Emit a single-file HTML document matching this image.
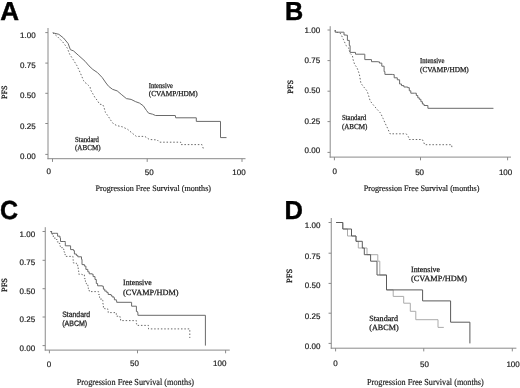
<!DOCTYPE html>
<html><head><meta charset="utf-8"><style>
html,body{margin:0;padding:0;background:#fff;}
body{width:520px;height:388px;overflow:hidden;}
svg{display:block;will-change:transform;}
</style></head><body>
<svg width="520" height="388" viewBox="0 0 520 388" shape-rendering="auto" text-rendering="geometricPrecision">
<rect width="520" height="388" fill="#fff"/>
<line x1="48.00" y1="28.00" x2="48.00" y2="159.20" stroke="#8a8a8a" stroke-width="1.0"/>
<line x1="47.50" y1="158.70" x2="245.50" y2="158.70" stroke="#8a8a8a" stroke-width="1.0"/>
<line x1="45.30" y1="32.60" x2="48.00" y2="32.60" stroke="#8a8a8a" stroke-width="1.0"/>
<line x1="45.30" y1="63.10" x2="48.00" y2="63.10" stroke="#8a8a8a" stroke-width="1.0"/>
<line x1="45.30" y1="93.30" x2="48.00" y2="93.30" stroke="#8a8a8a" stroke-width="1.0"/>
<line x1="45.30" y1="123.50" x2="48.00" y2="123.50" stroke="#8a8a8a" stroke-width="1.0"/>
<line x1="45.30" y1="154.40" x2="48.00" y2="154.40" stroke="#8a8a8a" stroke-width="1.0"/>
<line x1="52.50" y1="158.70" x2="52.50" y2="161.90" stroke="#8a8a8a" stroke-width="1.0"/>
<line x1="147.20" y1="158.70" x2="147.20" y2="161.90" stroke="#8a8a8a" stroke-width="1.0"/>
<line x1="242.00" y1="158.70" x2="242.00" y2="161.90" stroke="#8a8a8a" stroke-width="1.0"/>
<text x="35.6" y="37.8" font-family="Liberation Sans" font-size="8.0" font-weight="normal" fill="#1a1a1a" text-anchor="end" stroke="#1a1a1a" stroke-width="0.2">1.00</text>
<text x="35.6" y="67.8" font-family="Liberation Sans" font-size="8.0" font-weight="normal" fill="#1a1a1a" text-anchor="end" stroke="#1a1a1a" stroke-width="0.2">0.75</text>
<text x="35.6" y="98.3" font-family="Liberation Sans" font-size="8.0" font-weight="normal" fill="#1a1a1a" text-anchor="end" stroke="#1a1a1a" stroke-width="0.2">0.50</text>
<text x="35.6" y="128.6" font-family="Liberation Sans" font-size="8.0" font-weight="normal" fill="#1a1a1a" text-anchor="end" stroke="#1a1a1a" stroke-width="0.2">0.25</text>
<text x="35.6" y="158.6" font-family="Liberation Sans" font-size="8.0" font-weight="normal" fill="#1a1a1a" text-anchor="end" stroke="#1a1a1a" stroke-width="0.2">0.00</text>
<text x="48.8" y="174.1" font-family="Liberation Sans" font-size="8.0" font-weight="normal" fill="#1a1a1a" text-anchor="middle" stroke="#1a1a1a" stroke-width="0.2">0</text>
<text x="149.3" y="175.0" font-family="Liberation Sans" font-size="8.0" font-weight="normal" fill="#1a1a1a" text-anchor="middle" stroke="#1a1a1a" stroke-width="0.2">50</text>
<text x="239.0" y="175.0" font-family="Liberation Sans" font-size="8.0" font-weight="normal" fill="#1a1a1a" text-anchor="middle" stroke="#1a1a1a" stroke-width="0.2">100</text>
<text x="95.5" y="191.0" font-family="Liberation Serif" font-size="8.5" font-weight="normal" fill="#1a1a1a" text-anchor="start" stroke="#1a1a1a" stroke-width="0.18" textLength="115.5" lengthAdjust="spacingAndGlyphs">Progression Free Survival (months)</text>
<text transform="translate(7.3,99.0) rotate(-90)" font-family="Liberation Serif" font-size="8.0" font-weight="normal" fill="#1a1a1a" stroke="#1a1a1a" stroke-width="0.3" textLength="13.5" lengthAdjust="spacingAndGlyphs">PFS</text>
<text transform="translate(0.3,19.7) scale(1.0,1)" font-family="Liberation Sans" font-size="26" font-weight="bold" fill="#000" stroke="#000" stroke-width="0.45">A</text>
<text x="148.75" y="88.2" font-family="Liberation Serif" font-size="7.6" font-weight="normal" fill="#1a1a1a" text-anchor="start" stroke="#1a1a1a" stroke-width="0.25" textLength="24.3" lengthAdjust="spacingAndGlyphs">Intensive</text>
<text x="148.75" y="95.7" font-family="Liberation Serif" font-size="7.6" font-weight="normal" fill="#1a1a1a" text-anchor="start" stroke="#1a1a1a" stroke-width="0.25" textLength="49.0" lengthAdjust="spacingAndGlyphs">(CVAMP/HDM)</text>
<text x="75.0" y="142.3" font-family="Liberation Serif" font-size="7.6" font-weight="normal" fill="#1a1a1a" text-anchor="start" stroke="#1a1a1a" stroke-width="0.25" textLength="24.0" lengthAdjust="spacingAndGlyphs">Standard</text>
<text x="75.0" y="150.0" font-family="Liberation Serif" font-size="7.6" font-weight="normal" fill="#1a1a1a" text-anchor="start" stroke="#1a1a1a" stroke-width="0.25" textLength="25.6" lengthAdjust="spacingAndGlyphs">(ABCM)</text>
<polyline points="52.8,32.8 58.8,34.3 63.5,38.0 68.1,43.5 70.4,49.7 73.5,50.9 78.2,55.1 85.1,61.3 89.0,65.9 92.9,69.5 97.5,72.6 102.2,77.5 106.0,83.0 108.6,86.3 112.5,89.3 117.2,90.9 121.8,94.8 126.4,98.6 131.1,99.4 135.7,101.7 139.5,103.1 143.3,105.8 146.5,110.5 148.6,113.2 152.5,114.2 155.6,115.5 175.3,115.5 175.7,117.8 196.3,117.8 196.3,121.4 220.5,121.4 220.5,137.6 226.5,137.6" fill="none" stroke="#6a6a6a" stroke-width="1.0" stroke-linejoin="miter"/>
<polyline points="52.8,32.8 57.3,36.5 62.7,41.9 67.3,48.1 69.7,54.3 72.8,59.0 77.0,65.8 80.4,73.1 83.5,80.5 84.7,82.4 86.6,83.6 88.6,85.5 90.1,87.0 90.5,89.7 93.2,94.4 95.0,97.6 97.3,100.4 99.6,104.2 102.7,104.6 103.9,107.0 105.4,112.4 108.5,116.7 111.2,120.9 113.6,124.0 117.2,125.7 122.3,126.8 127.7,129.4 132.4,133.3 136.3,136.4 144.8,136.4 149.4,139.5 157.2,139.9 159.5,142.2 180.7,142.2 180.9,144.6 202.0,144.6 202.8,147.0 203.6,149.5" fill="none" stroke="#6a6a6a" stroke-width="1.0" stroke-linejoin="miter" stroke-dasharray="1.5 1.85"/>
<line x1="330.20" y1="26.20" x2="330.20" y2="157.60" stroke="#8a8a8a" stroke-width="1.0"/>
<line x1="329.70" y1="157.10" x2="511.00" y2="157.10" stroke="#8a8a8a" stroke-width="1.0"/>
<line x1="327.50" y1="30.00" x2="330.20" y2="30.00" stroke="#8a8a8a" stroke-width="1.0"/>
<line x1="327.50" y1="60.60" x2="330.20" y2="60.60" stroke="#8a8a8a" stroke-width="1.0"/>
<line x1="327.50" y1="91.20" x2="330.20" y2="91.20" stroke="#8a8a8a" stroke-width="1.0"/>
<line x1="327.50" y1="121.60" x2="330.20" y2="121.60" stroke="#8a8a8a" stroke-width="1.0"/>
<line x1="327.50" y1="152.40" x2="330.20" y2="152.40" stroke="#8a8a8a" stroke-width="1.0"/>
<line x1="334.40" y1="157.10" x2="334.40" y2="160.30" stroke="#8a8a8a" stroke-width="1.0"/>
<line x1="420.50" y1="157.10" x2="420.50" y2="160.30" stroke="#8a8a8a" stroke-width="1.0"/>
<line x1="507.60" y1="157.10" x2="507.60" y2="160.30" stroke="#8a8a8a" stroke-width="1.0"/>
<text x="320.2" y="32.6" font-family="Liberation Sans" font-size="8.0" font-weight="normal" fill="#1a1a1a" text-anchor="end" stroke="#1a1a1a" stroke-width="0.2">1.00</text>
<text x="320.2" y="63.1" font-family="Liberation Sans" font-size="8.0" font-weight="normal" fill="#1a1a1a" text-anchor="end" stroke="#1a1a1a" stroke-width="0.2">0.75</text>
<text x="320.2" y="92.8" font-family="Liberation Sans" font-size="8.0" font-weight="normal" fill="#1a1a1a" text-anchor="end" stroke="#1a1a1a" stroke-width="0.2">0.50</text>
<text x="320.2" y="123.8" font-family="Liberation Sans" font-size="8.0" font-weight="normal" fill="#1a1a1a" text-anchor="end" stroke="#1a1a1a" stroke-width="0.2">0.25</text>
<text x="320.2" y="153.2" font-family="Liberation Sans" font-size="8.0" font-weight="normal" fill="#1a1a1a" text-anchor="end" stroke="#1a1a1a" stroke-width="0.2">0.00</text>
<text x="334.8" y="174.4" font-family="Liberation Sans" font-size="8.0" font-weight="normal" fill="#1a1a1a" text-anchor="middle" stroke="#1a1a1a" stroke-width="0.2">0</text>
<text x="419.6" y="174.8" font-family="Liberation Sans" font-size="8.0" font-weight="normal" fill="#1a1a1a" text-anchor="middle" stroke="#1a1a1a" stroke-width="0.2">50</text>
<text x="505.6" y="175.0" font-family="Liberation Sans" font-size="8.0" font-weight="normal" fill="#1a1a1a" text-anchor="middle" stroke="#1a1a1a" stroke-width="0.2">100</text>
<text x="363.7" y="191.2" font-family="Liberation Serif" font-size="8.5" font-weight="normal" fill="#1a1a1a" text-anchor="start" stroke="#1a1a1a" stroke-width="0.18" textLength="115.8" lengthAdjust="spacingAndGlyphs">Progression Free Survival (months)</text>
<text transform="translate(292.7,93.7) rotate(-90)" font-family="Liberation Serif" font-size="8.0" font-weight="normal" fill="#1a1a1a" stroke="#1a1a1a" stroke-width="0.3" textLength="13.9" lengthAdjust="spacingAndGlyphs">PFS</text>
<text transform="translate(284.9,19.6) scale(0.97,1)" font-family="Liberation Sans" font-size="26" font-weight="bold" fill="#000" stroke="#000" stroke-width="0.45">B</text>
<text x="420.0" y="63.2" font-family="Liberation Serif" font-size="7.6" font-weight="normal" fill="#1a1a1a" text-anchor="start" stroke="#1a1a1a" stroke-width="0.25" textLength="24.4" lengthAdjust="spacingAndGlyphs">Intensive</text>
<text x="420.0" y="72.2" font-family="Liberation Serif" font-size="7.6" font-weight="normal" fill="#1a1a1a" text-anchor="start" stroke="#1a1a1a" stroke-width="0.25" textLength="48.8" lengthAdjust="spacingAndGlyphs">(CVAMP/HDM)</text>
<text x="341.9" y="120.2" font-family="Liberation Serif" font-size="7.6" font-weight="normal" fill="#1a1a1a" text-anchor="start" stroke="#1a1a1a" stroke-width="0.25" textLength="24.4" lengthAdjust="spacingAndGlyphs">Standard</text>
<text x="341.9" y="128.9" font-family="Liberation Serif" font-size="7.6" font-weight="normal" fill="#1a1a1a" text-anchor="start" stroke="#1a1a1a" stroke-width="0.25" textLength="25.6" lengthAdjust="spacingAndGlyphs">(ABCM)</text>
<polyline points="335.2,30.0 335.2,30.0 335.2,32.2 343.5,32.2 343.5,32.2 344.0,32.2 344.0,35.0 346.2,35.0 346.2,35.2 347.4,35.2 347.4,40.4 349.3,40.4 349.3,45.6 350.1,45.6 350.1,52.4 355.5,52.4 355.5,52.4 355.5,52.4 355.5,54.2 364.2,54.2 364.2,54.2 364.8,54.2 364.8,59.6 371.0,59.6 371.0,59.6 371.5,59.6 371.5,61.7 377.9,61.7 377.9,61.9 379.5,61.9 379.5,63.1 381.8,63.1 381.8,66.2 384.1,66.2 384.1,71.6 384.9,71.6 384.9,74.4 392.6,74.4 392.6,74.6 394.2,74.6 394.2,77.8 397.3,77.8 397.3,79.8 399.6,79.8 399.6,84.0 401.5,84.0 401.5,85.6 403.9,85.6 403.9,87.0 407.7,87.0 407.7,87.7 409.3,87.7 409.3,90.8 410.8,90.8 410.8,93.2 414.7,93.2 414.7,93.2 416.3,93.2 416.3,95.5 417.8,95.5 417.8,97.8 419.3,97.8 419.3,99.3 420.9,99.3 420.9,101.7 422.4,101.7 422.4,104.0 424.0,104.0 424.0,105.5 427.1,105.5 427.1,105.5 427.9,105.5 427.9,108.3 493.4,108.3 493.4,108.4" fill="none" stroke="#6a6a6a" stroke-width="1.0" stroke-linejoin="miter"/>
<polyline points="335.2,30.0 335.3,32.0 340.0,32.9 341.6,35.6 343.9,40.6 346.2,45.7 348.6,48.0 350.1,53.4 352.4,55.7 353.2,60.0 354.7,64.6 357.0,67.7 359.3,73.9 360.9,83.2 363.2,86.3 367.1,91.0 368.6,95.6 370.2,101.0 373.3,104.9 377.2,109.5 380.5,113.0 383.1,118.5 385.4,123.8 387.7,128.5 390.0,133.8 406.2,133.8 408.5,136.9 409.2,139.5 422.3,139.5 423.8,142.3 424.6,144.7 451.6,144.7 452.0,148.2" fill="none" stroke="#6a6a6a" stroke-width="1.0" stroke-linejoin="miter" stroke-dasharray="1.5 1.85"/>
<line x1="45.25" y1="227.20" x2="45.25" y2="350.60" stroke="#8a8a8a" stroke-width="1.0"/>
<line x1="44.75" y1="350.10" x2="229.75" y2="350.10" stroke="#8a8a8a" stroke-width="1.0"/>
<line x1="42.55" y1="231.50" x2="45.25" y2="231.50" stroke="#8a8a8a" stroke-width="1.0"/>
<line x1="42.55" y1="260.30" x2="45.25" y2="260.30" stroke="#8a8a8a" stroke-width="1.0"/>
<line x1="42.55" y1="288.70" x2="45.25" y2="288.70" stroke="#8a8a8a" stroke-width="1.0"/>
<line x1="42.55" y1="317.00" x2="45.25" y2="317.00" stroke="#8a8a8a" stroke-width="1.0"/>
<line x1="42.55" y1="345.60" x2="45.25" y2="345.60" stroke="#8a8a8a" stroke-width="1.0"/>
<line x1="49.40" y1="350.10" x2="49.40" y2="353.30" stroke="#8a8a8a" stroke-width="1.0"/>
<line x1="137.50" y1="350.10" x2="137.50" y2="353.30" stroke="#8a8a8a" stroke-width="1.0"/>
<line x1="225.60" y1="350.10" x2="225.60" y2="353.30" stroke="#8a8a8a" stroke-width="1.0"/>
<text x="35.2" y="236.5" font-family="Liberation Sans" font-size="8.0" font-weight="normal" fill="#1a1a1a" text-anchor="end" stroke="#1a1a1a" stroke-width="0.2">1.00</text>
<text x="35.2" y="265.1" font-family="Liberation Sans" font-size="8.0" font-weight="normal" fill="#1a1a1a" text-anchor="end" stroke="#1a1a1a" stroke-width="0.2">0.75</text>
<text x="35.2" y="293.7" font-family="Liberation Sans" font-size="8.0" font-weight="normal" fill="#1a1a1a" text-anchor="end" stroke="#1a1a1a" stroke-width="0.2">0.50</text>
<text x="35.2" y="322.3" font-family="Liberation Sans" font-size="8.0" font-weight="normal" fill="#1a1a1a" text-anchor="end" stroke="#1a1a1a" stroke-width="0.2">0.25</text>
<text x="35.2" y="350.6" font-family="Liberation Sans" font-size="8.0" font-weight="normal" fill="#1a1a1a" text-anchor="end" stroke="#1a1a1a" stroke-width="0.2">0.00</text>
<text x="49.1" y="366.5" font-family="Liberation Sans" font-size="8.0" font-weight="normal" fill="#1a1a1a" text-anchor="middle" stroke="#1a1a1a" stroke-width="0.2">0</text>
<text x="134.4" y="366.3" font-family="Liberation Sans" font-size="8.0" font-weight="normal" fill="#1a1a1a" text-anchor="middle" stroke="#1a1a1a" stroke-width="0.2">50</text>
<text x="219.7" y="366.3" font-family="Liberation Sans" font-size="8.0" font-weight="normal" fill="#1a1a1a" text-anchor="middle" stroke="#1a1a1a" stroke-width="0.2">100</text>
<text x="76.7" y="385.2" font-family="Liberation Serif" font-size="9.2" font-weight="normal" fill="#1a1a1a" text-anchor="start" stroke="#1a1a1a" stroke-width="0.18" textLength="117.4" lengthAdjust="spacingAndGlyphs">Progression Free Survival (months)</text>
<text transform="translate(7.2,292.0) rotate(-90)" font-family="Liberation Serif" font-size="8.0" font-weight="normal" fill="#1a1a1a" stroke="#1a1a1a" stroke-width="0.3" textLength="14.0" lengthAdjust="spacingAndGlyphs">PFS</text>
<text transform="translate(-0.1,219.0) scale(0.96,1)" font-family="Liberation Sans" font-size="26" font-weight="bold" fill="#000" stroke="#000" stroke-width="0.45">C</text>
<text x="123.1" y="285.2" font-family="Liberation Serif" font-size="8.0" font-weight="normal" fill="#1a1a1a" text-anchor="start" stroke="#1a1a1a" stroke-width="0.25" textLength="28.5" lengthAdjust="spacingAndGlyphs">Intensive</text>
<text x="123.1" y="294.7" font-family="Liberation Serif" font-size="8.0" font-weight="normal" fill="#1a1a1a" text-anchor="start" stroke="#1a1a1a" stroke-width="0.25" textLength="55.4" lengthAdjust="spacingAndGlyphs">(CVAMP/HDM)</text>
<text x="62.2" y="317.1" font-family="Liberation Sans" font-size="7.8" font-weight="normal" fill="#1a1a1a" text-anchor="start" stroke="#1a1a1a" stroke-width="0.25" textLength="27.9" lengthAdjust="spacingAndGlyphs">Standard</text>
<text x="62.2" y="325.6" font-family="Liberation Sans" font-size="7.8" font-weight="normal" fill="#1a1a1a" text-anchor="start" stroke="#1a1a1a" stroke-width="0.25" textLength="25.0" lengthAdjust="spacingAndGlyphs">(ABCM)</text>
<polyline points="50.4,231.5 51.4,231.5 51.4,233.3 55.2,233.3 55.2,233.3 57.6,233.3 57.6,236.2 60.0,236.2 60.0,238.1 60.5,238.1 60.5,241.5 63.9,241.5 63.9,241.5 65.3,241.5 65.3,242.4 65.3,242.4 65.3,245.8 70.1,245.8 70.1,245.8 70.6,245.8 70.6,249.6 73.5,249.6 73.5,250.6 74.4,250.6 74.4,254.0 76.4,254.0 76.4,255.4 77.8,255.4 77.8,256.8 81.5,256.8 81.5,259.3 82.0,259.3 82.0,264.6 84.4,264.6 84.4,266.1 85.9,266.1 85.9,269.4 87.8,269.4 87.8,271.8 89.2,271.8 89.2,273.8 92.1,273.8 92.1,274.2 93.1,274.2 93.1,276.6 95.0,276.6 95.0,279.5 96.3,279.5 96.3,283.5 97.6,283.5 97.6,285.8 102.4,285.8 102.4,286.3 103.4,286.3 103.4,289.2 104.8,289.2 104.8,291.1 106.8,291.1 106.8,292.6 108.2,292.6 108.2,294.5 111.1,294.5 111.1,295.5 112.0,295.5 112.0,296.9 114.0,296.9 114.0,297.9 114.4,297.9 114.4,299.8 116.4,299.8 116.4,300.8 116.7,300.8 116.7,302.3 131.2,302.3 131.2,302.3 131.6,302.3 131.6,306.2 136.0,306.2 136.0,306.2 136.4,306.2 136.4,311.5 137.4,311.5 137.4,312.4 137.9,312.4 137.9,315.3 205.4,315.3 205.4,315.3 205.4,315.3 205.4,345.6" fill="none" stroke="#6a6a6a" stroke-width="1.0" stroke-linejoin="miter"/>
<polyline points="50.6,231.5 52.3,231.5 52.3,235.2 53.3,235.2 53.3,238.1 56.2,238.1 56.2,239.5 57.1,239.5 57.1,241.9 59.1,241.9 59.1,243.4 60.0,243.4 60.0,246.3 61.5,246.3 61.5,247.7 62.9,247.7 62.9,249.2 63.9,249.2 63.9,252.0 64.8,252.0 64.8,254.4 65.3,254.4 65.3,256.4 73.0,256.4 73.0,256.4 73.0,256.4 73.0,259.7 73.2,259.7 73.2,262.9 76.3,262.9 76.3,263.7 77.7,263.7 77.7,267.0 78.2,267.0 78.2,270.9 78.7,270.9 78.7,274.2 82.0,274.2 82.0,274.7 84.4,274.7 84.4,278.6 85.4,278.6 85.4,281.4 86.3,281.4 86.3,283.8 87.8,283.8 87.8,285.8 88.3,285.8 88.3,288.7 89.2,288.7 89.2,291.1 90.4,291.1 90.4,291.6 98.1,291.6 98.1,291.6 98.6,291.6 98.6,294.5 99.5,294.5 99.5,297.4 101.0,297.4 101.0,300.3 102.9,300.3 102.9,300.8 102.9,300.8 102.9,304.1 103.4,304.1 103.4,307.5 104.8,307.5 104.8,308.9 107.7,308.9 107.7,309.4 108.2,309.4 108.2,312.6 113.8,312.6 113.8,312.6 115.3,312.6 115.3,313.4 116.3,313.4 116.3,316.2 119.6,316.2 119.6,317.0 120.6,317.0 120.6,320.6 136.0,320.6 136.0,320.6 136.4,320.6 136.4,324.0 137.9,324.0 137.9,325.4 147.5,325.4 147.5,325.4 148.5,325.4 148.5,328.9 189.5,328.9 189.5,328.9 189.8,328.9 189.8,338.0" fill="none" stroke="#6a6a6a" stroke-width="1.0" stroke-linejoin="miter" stroke-dasharray="1.5 1.85"/>
<line x1="331.25" y1="218.00" x2="331.25" y2="348.70" stroke="#8a8a8a" stroke-width="1.0"/>
<line x1="330.75" y1="348.20" x2="516.40" y2="348.20" stroke="#8a8a8a" stroke-width="1.0"/>
<line x1="328.55" y1="222.50" x2="331.25" y2="222.50" stroke="#8a8a8a" stroke-width="1.0"/>
<line x1="328.55" y1="253.20" x2="331.25" y2="253.20" stroke="#8a8a8a" stroke-width="1.0"/>
<line x1="328.55" y1="283.40" x2="331.25" y2="283.40" stroke="#8a8a8a" stroke-width="1.0"/>
<line x1="328.55" y1="313.20" x2="331.25" y2="313.20" stroke="#8a8a8a" stroke-width="1.0"/>
<line x1="328.55" y1="343.40" x2="331.25" y2="343.40" stroke="#8a8a8a" stroke-width="1.0"/>
<line x1="335.60" y1="348.20" x2="335.60" y2="351.40" stroke="#8a8a8a" stroke-width="1.0"/>
<line x1="423.75" y1="348.20" x2="423.75" y2="351.40" stroke="#8a8a8a" stroke-width="1.0"/>
<line x1="512.30" y1="348.20" x2="512.30" y2="351.40" stroke="#8a8a8a" stroke-width="1.0"/>
<text x="320.4" y="228.0" font-family="Liberation Sans" font-size="8.0" font-weight="normal" fill="#1a1a1a" text-anchor="end" stroke="#1a1a1a" stroke-width="0.2">1.00</text>
<text x="320.4" y="258.6" font-family="Liberation Sans" font-size="8.0" font-weight="normal" fill="#1a1a1a" text-anchor="end" stroke="#1a1a1a" stroke-width="0.2">0.75</text>
<text x="320.4" y="288.0" font-family="Liberation Sans" font-size="8.0" font-weight="normal" fill="#1a1a1a" text-anchor="end" stroke="#1a1a1a" stroke-width="0.2">0.50</text>
<text x="320.4" y="318.9" font-family="Liberation Sans" font-size="8.0" font-weight="normal" fill="#1a1a1a" text-anchor="end" stroke="#1a1a1a" stroke-width="0.2">0.25</text>
<text x="320.4" y="349.0" font-family="Liberation Sans" font-size="8.0" font-weight="normal" fill="#1a1a1a" text-anchor="end" stroke="#1a1a1a" stroke-width="0.2">0.00</text>
<text x="335.6" y="366.2" font-family="Liberation Sans" font-size="8.0" font-weight="normal" fill="#1a1a1a" text-anchor="middle" stroke="#1a1a1a" stroke-width="0.2">0</text>
<text x="424.4" y="367.0" font-family="Liberation Sans" font-size="8.0" font-weight="normal" fill="#1a1a1a" text-anchor="middle" stroke="#1a1a1a" stroke-width="0.2">50</text>
<text x="513.1" y="366.9" font-family="Liberation Sans" font-size="8.0" font-weight="normal" fill="#1a1a1a" text-anchor="middle" stroke="#1a1a1a" stroke-width="0.2">100</text>
<text x="366.9" y="385.3" font-family="Liberation Serif" font-size="9.2" font-weight="normal" fill="#1a1a1a" text-anchor="start" stroke="#1a1a1a" stroke-width="0.18" textLength="116.9" lengthAdjust="spacingAndGlyphs">Progression Free Survival (months)</text>
<text transform="translate(292.2,282.9) rotate(-90)" font-family="Liberation Serif" font-size="8.0" font-weight="normal" fill="#1a1a1a" stroke="#1a1a1a" stroke-width="0.3" textLength="14.1" lengthAdjust="spacingAndGlyphs">PFS</text>
<text transform="translate(284.5,218.9) scale(0.98,1)" font-family="Liberation Sans" font-size="26" font-weight="bold" fill="#000" stroke="#000" stroke-width="0.45">D</text>
<text x="411.0" y="272.2" font-family="Liberation Serif" font-size="8.0" font-weight="normal" fill="#1a1a1a" text-anchor="start" stroke="#1a1a1a" stroke-width="0.25" textLength="29.1" lengthAdjust="spacingAndGlyphs">Intensive</text>
<text x="411.0" y="281.3" font-family="Liberation Serif" font-size="8.0" font-weight="normal" fill="#1a1a1a" text-anchor="start" stroke="#1a1a1a" stroke-width="0.25" textLength="56.0" lengthAdjust="spacingAndGlyphs">(CVAMP/HDM)</text>
<text x="369.2" y="320.7" font-family="Liberation Serif" font-size="8.0" font-weight="normal" fill="#1a1a1a" text-anchor="start" stroke="#1a1a1a" stroke-width="0.25" textLength="28.9" lengthAdjust="spacingAndGlyphs">Standard</text>
<text x="369.2" y="330.0" font-family="Liberation Serif" font-size="8.0" font-weight="normal" fill="#1a1a1a" text-anchor="start" stroke="#1a1a1a" stroke-width="0.25" textLength="29.4" lengthAdjust="spacingAndGlyphs">(ABCM)</text>
<polyline points="336.1,222.5 342.8,222.5 342.8,229.0 347.5,229.0 347.5,236.0 356.0,236.0 356.0,241.3 358.3,241.3 358.3,248.0 367.0,248.0 367.0,254.7 377.8,254.7 377.8,261.2 379.8,261.2 379.8,275.0 386.5,275.0 386.5,289.9 393.2,289.9 393.2,296.4 403.7,296.4 403.7,303.2 410.3,303.2 410.3,311.3 415.8,311.3 415.8,319.7 438.0,319.7 438.0,327.4 443.8,327.4" fill="none" stroke="#aaa" stroke-width="1.0" stroke-linejoin="miter"/>
<polyline points="336.1,222.5 342.8,222.5 342.8,229.0 351.5,229.0 351.5,236.0 356.0,236.0 356.0,241.3 362.3,241.3 362.3,248.0 364.3,248.0 364.3,254.7 370.6,254.7 370.6,261.2 377.0,261.2 377.0,275.0 386.5,275.0 386.5,289.9 422.6,289.9 422.6,300.9 450.6,300.9 450.6,322.2 469.9,322.2 469.9,343.4" fill="none" stroke="#5a5a5a" stroke-width="1.0" stroke-linejoin="miter"/>
</svg>
</body></html>
